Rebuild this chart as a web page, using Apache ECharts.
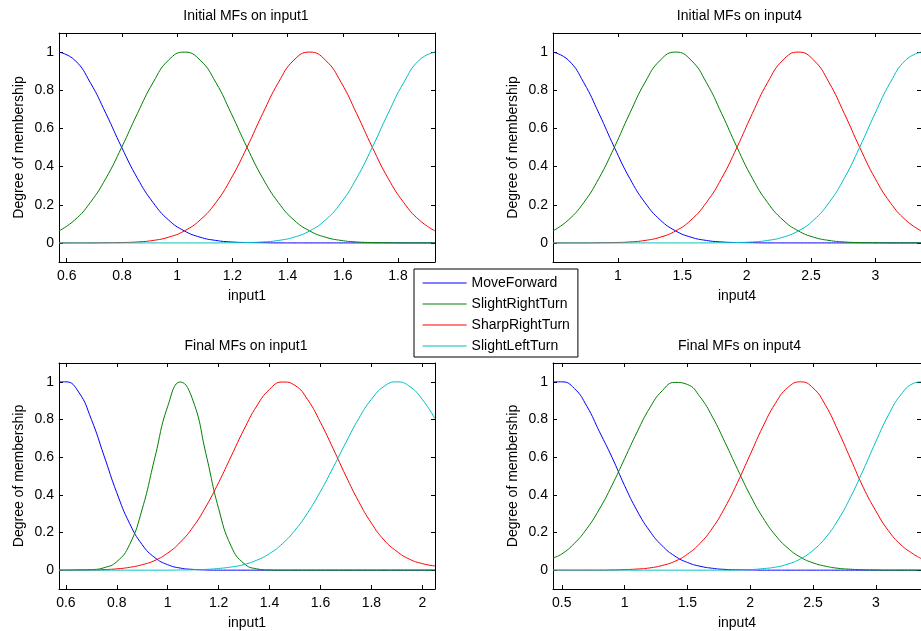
<!DOCTYPE html>
<html>
<head>
<meta charset="utf-8">
<script src="https://cdn.jsdelivr.net/npm/echarts@6/dist/echarts.min.js"></script>
<style>html,body{margin:0;padding:0;background:#fff;}#c{width:921px;height:631px;}</style>
</head>
<body>
<div id="c"></div>
<script>
var seriesNames = ['MoveForward', 'SlightRightTurn', 'SharpRightTurn', 'SlightLeftTurn'];
var plotTitles = ['Initial MFs on input1', 'Initial MFs on input4', 'Final MFs on input1', 'Final MFs on input4'];
var xNames = ['input1', 'input4', 'input1', 'input4'];
var yName = 'Degree of membership';

var yTicks = [0, 0.2, 0.4, 0.6, 0.8, 1];
var init1Ticks = [0.6, 0.8, 1, 1.2, 1.4, 1.6, 1.8];
var init4Ticks = [0.5, 1, 1.5, 2, 2.5, 3];
var final1Ticks = [0.6, 0.8, 1, 1.2, 1.4, 1.6, 1.8, 2];
var final4Ticks = [0.5, 1, 1.5, 2, 2.5, 3];

var xRanges = [[0.572, 1.934], [0.497, 3.353], [0.573, 2.05], [0.43, 3.36]];

// Initial MFs on input1
var init1X = [0.572,0.629,0.685,0.742,0.799,0.856,0.913,0.969,1.026,1.083,1.140,1.196,1.253,1.310,1.367,1.423,1.480,1.537,1.594,1.650,1.707,1.764,1.821,1.877,1.934];
var init1Move = [1,0.958,0.841,0.678,0.501,0.339,0.211,0.120,0.063,0.030,0.013,0.005,0.002,0.001,0,0,0,0,0,0,0,0,0,0,0];
var init1SlightRight = [0.063,0.120,0.211,0.339,0.501,0.678,0.841,0.958,1,0.958,0.841,0.678,0.501,0.339,0.211,0.120,0.063,0.030,0.013,0.005,0.002,0.001,0,0,0];
var init1SharpRight = [0,0,0,0.001,0.002,0.005,0.013,0.030,0.063,0.120,0.211,0.339,0.501,0.678,0.841,0.958,1,0.958,0.841,0.678,0.501,0.339,0.211,0.120,0.063];
var init1SlightLeft = [0,0,0,0,0,0,0,0,0,0,0,0.001,0.002,0.005,0.013,0.030,0.063,0.120,0.211,0.339,0.501,0.678,0.841,0.958,1];

// Initial MFs on input4
var init4X = [0.497,0.616,0.735,0.854,0.973,1.092,1.211,1.330,1.449,1.568,1.687,1.806,1.925,2.044,2.163,2.282,2.401,2.520,2.639,2.758,2.877,2.996,3.115,3.234,3.353];
var init4Move = [1,0.958,0.841,0.678,0.501,0.339,0.211,0.120,0.063,0.030,0.013,0.005,0.002,0.001,0,0,0,0,0,0,0,0,0,0,0];
var init4SlightRight = [0.063,0.120,0.211,0.339,0.501,0.678,0.841,0.958,1,0.958,0.841,0.678,0.501,0.339,0.211,0.120,0.063,0.030,0.013,0.005,0.002,0.001,0,0,0];
var init4SharpRight = [0,0,0,0.001,0.002,0.005,0.013,0.030,0.063,0.120,0.211,0.339,0.501,0.678,0.841,0.958,1,0.958,0.841,0.678,0.501,0.339,0.211,0.120,0.063];
var init4SlightLeft = [0,0,0,0,0,0,0,0,0,0,0,0.001,0.002,0.005,0.013,0.030,0.063,0.120,0.211,0.339,0.501,0.678,0.841,0.958,1];

// Final MFs on input1
var final1X = [0.573,0.60,0.65,0.70,0.75,0.80,0.85,0.90,0.95,1.00,1.05,1.10,1.15,1.20,1.25,1.30,1.35,1.40,1.45,1.50,1.55,1.60,1.65,1.70,1.75,1.80,1.85,1.90,1.95,2.00,2.05];
var final1Move = [1,1,0.946,0.801,0.607,0.411,0.249,0.135,0.066,0.029,0.011,0.004,0.001,0,0,0,0,0,0,0,0,0,0,0,0,0,0,0,0,0,0];
var final1SlightRight = [0,0,0.001,0.003,0.013,0.045,0.135,0.325,0.600,0.870,0.999,0.898,0.619,0.327,0.125,0.035,0.007,0.001,0,0,0,0,0,0,0,0,0,0,0,0,0];
var final1SharpRight = [0,0,0.001,0.001,0.003,0.007,0.015,0.029,0.052,0.091,0.149,0.230,0.337,0.465,0.607,0.748,0.872,0.960,0.999,0.981,0.905,0.785,0.645,0.500,0.365,0.250,0.160,0.100,0.058,0.035,0.022];
var final1SlightLeft = [0,0,0,0,0,0,0,0,0,0,0.001,0.002,0.004,0.009,0.017,0.030,0.053,0.088,0.140,0.212,0.305,0.418,0.545,0.678,0.804,0.907,0.976,1,0.976,0.907,0.804];

// Final MFs on input4
var final4X = [0.43,0.5,0.6,0.7,0.8,0.9,1.0,1.1,1.2,1.3,1.4,1.5,1.6,1.7,1.8,1.9,2.0,2.1,2.2,2.3,2.4,2.5,2.6,2.7,2.8,2.9,3.0,3.1,3.2,3.3,3.36];
var final4Move = [1,1,0.965,0.870,0.735,0.599,0.449,0.315,0.208,0.129,0.075,0.041,0.021,0.010,0.004,0.002,0.001,0,0,0,0,0,0,0,0,0,0,0,0,0,0];
var final4SlightRight = [0.065,0.086,0.142,0.221,0.325,0.451,0.592,0.734,0.861,0.953,0.997,0.986,0.921,0.813,0.678,0.535,0.398,0.280,0.186,0.117,0.069,0.039,0.021,0.010,0.005,0.002,0.001,0,0,0,0];
var final4SharpRight = [0,0,0,0,0,0.001,0.003,0.006,0.012,0.025,0.047,0.085,0.142,0.224,0.334,0.467,0.614,0.760,0.885,0.970,1,0.968,0.875,0.740,0.590,0.440,0.315,0.210,0.135,0.085,0.062];
var final4SlightLeft = [0,0,0,0,0,0,0,0,0,0,0,0,0,0,0,0.001,0.003,0.008,0.016,0.032,0.060,0.105,0.172,0.267,0.389,0.531,0.682,0.823,0.932,0.992,1];

var colors = ['#0000ff', '#008000', '#ff0000', '#00bfbf'];
var FONT = '"Liberation Sans", Arial, Helvetica, sans-serif';

var plots = [
  { x: init1X, ys: [init1Move, init1SlightRight, init1SharpRight, init1SlightLeft], ticks: init1Ticks },
  { x: init4X, ys: [init4Move, init4SlightRight, init4SharpRight, init4SlightLeft], ticks: init4Ticks },
  { x: final1X, ys: [final1Move, final1SlightRight, final1SharpRight, final1SlightLeft], ticks: final1Ticks },
  { x: final4X, ys: [final4Move, final4SlightRight, final4SharpRight, final4SlightLeft], ticks: final4Ticks }
];

var grids = [
  { left: 59, top: 33, width: 376, height: 229 },
  { left: 553, top: 33, width: 375, height: 229 },
  { left: 59, top: 363, width: 376, height: 229 },
  { left: 553, top: 363, width: 375, height: 229 }
];

var lineAxis = { show: true, onZero: false, lineStyle: { color: '#000', width: 1 } };
var xAxes = [], yAxes = [], series = [], titles = [];

grids.forEach(function (g, i) {
  var p = plots[i];
  xAxes.push({
    type: 'value', gridIndex: i, position: 'bottom', min: xRanges[i][0], max: xRanges[i][1],
    axisLine: lineAxis, splitLine: { show: false },
    axisTick: { show: true, inside: true, length: 4, customValues: p.ticks, lineStyle: { color: '#000' } },
    axisLabel: { show: true, customValues: p.ticks, margin: 7, color: '#000', fontSize: 14, fontFamily: FONT },
    name: xNames[i], nameLocation: 'middle', nameGap: 27,
    nameTextStyle: { color: '#000', fontSize: 14, fontFamily: FONT }
  });
  yAxes.push({
    type: 'value', gridIndex: i, position: 'left', min: -0.1, max: 1.1,
    axisLine: lineAxis, splitLine: { show: false },
    axisTick: { show: true, inside: true, length: 4, customValues: yTicks, lineStyle: { color: '#000' } },
    axisLabel: { show: true, customValues: yTicks, margin: 5, color: '#000', fontSize: 14, fontFamily: FONT },
    name: yName, nameLocation: 'middle', nameGap: 33,
    nameTextStyle: { color: '#000', fontSize: 14, fontFamily: FONT }
  });
  titles.push({
    text: plotTitles[i], left: g.left + g.width / 2 - 1, top: g.top - 24, textAlign: 'center', padding: 0,
    textStyle: { color: '#000', fontSize: 14, fontWeight: 'normal', fontFamily: FONT }
  });
});
grids.forEach(function (g, i) {
  var p = plots[i];
  xAxes.push({
    type: 'value', gridIndex: i, position: 'top', min: xRanges[i][0], max: xRanges[i][1],
    axisLine: lineAxis, splitLine: { show: false },
    axisTick: { show: true, inside: true, length: 4, customValues: p.ticks, lineStyle: { color: '#000' } },
    axisLabel: { show: false }
  });
  yAxes.push({
    type: 'value', gridIndex: i, position: 'right', min: -0.1, max: 1.1,
    axisLine: lineAxis, splitLine: { show: false },
    axisTick: { show: true, inside: true, length: 4, customValues: yTicks, lineStyle: { color: '#000' } },
    axisLabel: { show: false }
  });
});

plots.forEach(function (p, i) {
  p.ys.forEach(function (ys, k) {
    series.push({
      type: 'line', name: seriesNames[k], xAxisIndex: i, yAxisIndex: i,
      data: p.x.map(function (xv, j) { return [xv, ys[j]]; }),
      symbol: 'none', smooth: true, clip: true,
      lineStyle: { color: colors[k], width: 1 }, itemStyle: { color: colors[k] },
      z: 2 + k, animation: false
    });
  });
});

var chart = echarts.init(document.getElementById('c'), null, { renderer: 'canvas' });
chart.setOption({
  animation: false,
  backgroundColor: '#fff',
  textStyle: { fontFamily: FONT },
  title: titles,
  grid: grids,
  xAxis: xAxes,
  yAxis: yAxes,
  legend: {
    data: seriesNames, orient: 'vertical', left: 414, top: 269,
    itemWidth: 44, itemHeight: 14, itemGap: 7, padding: [7, 8, 4, 8],
    backgroundColor: '#fff', borderColor: '#000', borderWidth: 1, borderRadius: 0,
    itemStyle: { color: 'rgba(0,0,0,0)', borderColor: 'rgba(0,0,0,0)', borderWidth: 0, opacity: 0 },
    lineStyle: { width: 1.2 },
    textStyle: { color: '#000', fontSize: 14, fontFamily: FONT },
    z: 10
  },
  series: series
});
</script>
</body>
</html>
